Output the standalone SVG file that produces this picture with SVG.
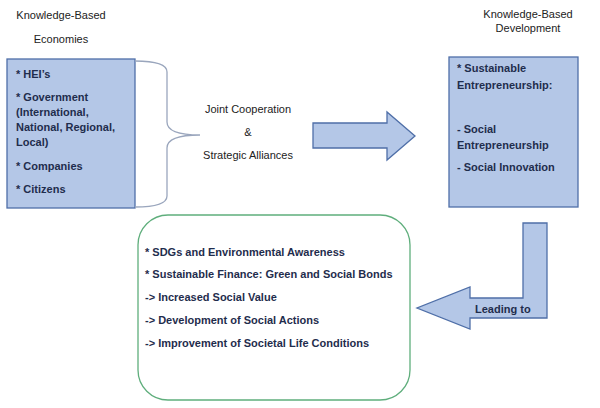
<svg xmlns="http://www.w3.org/2000/svg" width="600" height="408" viewBox="0 0 600 408">
<style>
.t{font-family:"Liberation Sans",Arial,sans-serif;font-size:11px;fill:#222}
.b{font-family:"Liberation Sans",Arial,sans-serif;font-size:11px;font-weight:bold;fill:#1f2d4d}
.blue{fill:#b4c7e7;stroke:#4f6fa8;stroke-width:1.3}
</style>
<rect width="600" height="408" fill="#ffffff"/>
<g id="title-left">
<text class="t" x="61" y="19" text-anchor="middle">Knowledge-Based</text>
<text class="t" x="61" y="43" text-anchor="middle">Economies</text>
</g>
<g id="title-right">
<text class="t" x="528" y="18" text-anchor="middle">Knowledge-Based</text>
<text class="t" x="528" y="32" text-anchor="middle">Development</text>
</g>
<g id="economies">
<rect class="blue" x="7" y="59" width="128" height="149"/>
<text class="b" x="16" y="78">* HEI’s</text>
<text class="b" x="16" y="101">* Government</text>
<text class="b" x="16" y="116">(International,</text>
<text class="b" x="16" y="131">National, Regional,</text>
<text class="b" x="16" y="146">Local)</text>
<text class="b" x="16" y="170">* Companies</text>
<text class="b" x="16" y="193">* Citizens</text>
</g>
<g id="development">
<rect class="blue" x="449" y="57" width="129" height="150"/>
<text class="b" x="457" y="72">* Sustainable</text>
<text class="b" x="457" y="89">Entrepreneurship:</text>
<text class="b" x="457" y="133">- Social</text>
<text class="b" x="457" y="149">Entrepreneurship</text>
<text class="b" x="457" y="171">- Social Innovation</text>
</g>
<g id="outcomes">
<rect x="138" y="215" width="272" height="185" rx="30" ry="30" fill="#ffffff" stroke="#5fae7c" stroke-width="1.3"/>
<text class="b" x="145" y="256">* SDGs and Environmental Awareness</text>
<text class="b" x="145" y="278">* Sustainable Finance: Green and Social Bonds</text>
<text class="b" x="145" y="301">-&gt; Increased Social Value</text>
<text class="b" x="145" y="324">-&gt; Development of Social Actions</text>
<text class="b" x="145" y="347">-&gt; Improvement of Societal Life Conditions</text>
</g>
<g id="connectors">
<path d="M135,61 Q167,61 167,72 L167,122 Q167,135 200,135 Q167,135 167,148 L167,196 Q167,207 135,207" fill="none" stroke="#9aa6bd" stroke-width="1.3"/>
<g id="cooperation-label">
<text class="t" x="248" y="113" text-anchor="middle">Joint Cooperation</text>
<text class="t" x="248" y="136" text-anchor="middle">&amp;</text>
<text class="t" x="248" y="159" text-anchor="middle">Strategic Alliances</text>
</g>
<polygon class="blue" points="313,123 387,123 387,112 415,136 387,160 387,148 313,148"/>
<polygon class="blue" points="523,223 547,223 547,318 470,318 470,329 417,308 470,287 470,298 523,298"/>
<text class="b" x="475" y="313">Leading to</text>
</g>
</svg>
